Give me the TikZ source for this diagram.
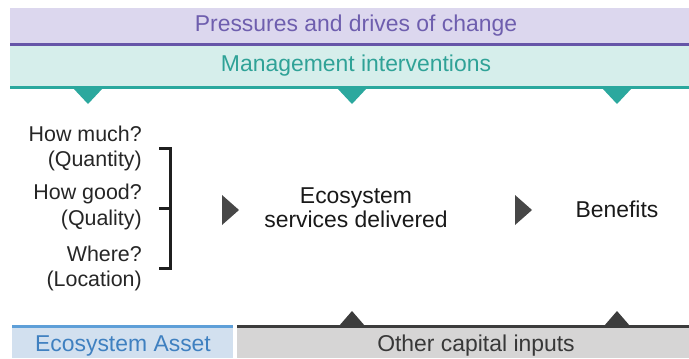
\documentclass[tikz,border=0pt]{standalone}
\usepackage{fontspec}
\setmainfont{Liberation Sans}
\definecolor{purpfill}{HTML}{DCD7EE}
\definecolor{purpline}{HTML}{6655A8}
\definecolor{purptext}{HTML}{6E5EAE}
\definecolor{tealfill}{HTML}{D6EEEB}
\definecolor{tealline}{HTML}{2BA89E}
\definecolor{tealtext}{HTML}{2FA297}
\definecolor{bluefill}{HTML}{D2E0EF}
\definecolor{blueline}{HTML}{5E9FD8}
\definecolor{bluetext}{HTML}{3F80C0}
\definecolor{greyfill}{HTML}{D6D5D5}
\definecolor{greyline}{HTML}{3C3C3C}
\definecolor{greytext}{HTML}{383838}
\begin{document}
\begin{tikzpicture}[x=1bp, y=-1bp, font=\fontsize{22}{25}\selectfont]
            \useasboundingbox (0,0) rectangle (689,358);
            % Top bands
            \fill[purpfill] (10,8) rectangle (689,44);
            \draw[purpline, line width=3bp] (10,44) -- (689,44);
            \node[text=purptext, font=\fontsize{23}{26}\selectfont] (Pressures) at (356,26) {Pressures and drives of change};
            \fill[tealfill] (10,46) rectangle (689,87);
            \draw[tealline, line width=3bp] (10,87) -- (689,87);
            \node[text=tealtext, font=\fontsize{23}{26}\selectfont] (Management) at (356,66) {Management interventions};
            \foreach \x/\i in {88/1,352/2,617/3} {
                \fill[tealline] (\x-15,88) -- (\x+15,88) -- (\x,104) -- cycle;
            }
            % Asset questions
            \foreach \name/\y/\i in {How much?/134/1,(Quantity)/161/2,How good?/194/3,(Quality)/220/4,Where?/254/5,(Location)/281/6} {
                \node[anchor=east, text=black!85, inner sep=0pt, font=\fontsize{21.5}{24}\selectfont] (Asset-\i) at (142,\y) {\name};
            }
            \coordinate (Top) at (170,148);
            \coordinate (Mid) at (170,208);
            \coordinate (Bot) at (170,268);
            \draw[black!88, line width=3bp] ([xshift=-11bp]Top) -- (Top) -- (Bot) -- ([xshift=-11bp]Bot);
            \draw[black!88, line width=3bp] (Mid) -- ([xshift=-11bp]Mid);
            % Flow
            \node[text=black!90, font=\fontsize{23}{27}\selectfont] (Services) at (356,208) {\shortstack{Ecosystem\\services delivered}};
            \node[text=black!90, font=\fontsize{23}{26}\selectfont] (Benefits) at (617,209) {Benefits};
            \foreach \x/\i in {222/1,515/2} {
                \fill[black!72] (\x,195) -- (\x+17,210) -- (\x,225) -- cycle;
            }
            % Bottom bands
            \fill[bluefill] (12,327) rectangle (233,358);
            \draw[blueline, line width=3bp] (12,326) -- (233,326);
            \node[text=bluetext, font=\fontsize{23}{26}\selectfont] (Asset) at (123,346) {Ecosystem Asset};
            \fill[greyfill] (237,327) rectangle (689,358);
            \draw[greyline, line width=3bp] (237,326) -- (689,326);
            \node[text=greytext, font=\fontsize{23}{26}\selectfont] (Capital) at (476,346) {Other capital inputs};
            \foreach \x/\i in {352/1,617/2} {
                \fill[greyline] (\x-13,326) -- (\x+13,326) -- (\x,311) -- cycle;
            }
        \end{tikzpicture}
\end{document}
